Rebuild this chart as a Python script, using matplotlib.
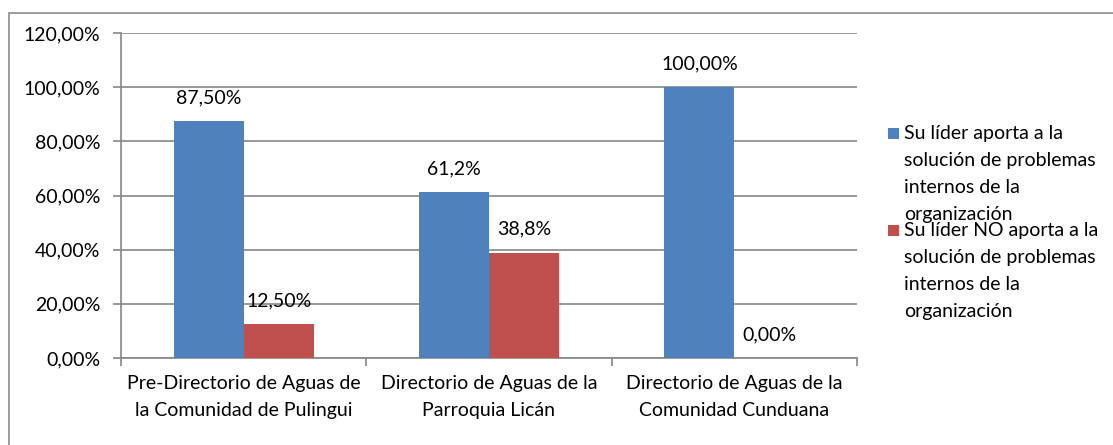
import matplotlib
matplotlib.use("Agg")
import matplotlib.pyplot as plt
from matplotlib.patches import Rectangle
from matplotlib.ticker import FuncFormatter, FixedLocator
import numpy as np

plt.rcParams['font.family'] = ['Lato', 'DejaVu Sans']

categories = ["Pre-Directorio de Aguas de\nla Comunidad de Pulingui",
              "Directorio de Aguas de la\nParroquia Licán",
              "Directorio de Aguas de la\nComunidad Cunduana"]
series_names = ["Su líder aporta a la\nsolución de problemas\ninternos de la\norganización",
                "Su líder NO aporta a la\nsolución de problemas\ninternos de la\norganización"]
aporta = [87.5, 61.2, 100.0]
no_aporta = [12.5, 38.8, 0.0]
label_aporta = ["87,50%", "61,2%", "100,00%"]
label_no_aporta = ["12,50%", "38,8%", "0,00%"]
yticks = [0, 20, 40, 60, 80, 100, 120]

colors = ["#4F81BD", "#C0504D"]
grid_c = "#868686"
fs = 14

W, H = 1113, 445
fig = plt.figure(figsize=(W/100, H/100), dpi=100)
# outer chart border
fig.patches.append(Rectangle((9/W, -0.1), 1.2, 1 - 13/H + 0.1, transform=fig.transFigure,
                             fill=False, edgecolor="#8c8c8c", linewidth=1.2, zorder=0))

ax = fig.add_axes([121/W, 1 - 358/H, (857-121)/W, (358-33)/H])
x = np.arange(len(categories))
w = 0.285
b1 = ax.bar(x - w/2, aporta, w, color=colors[0], zorder=3)
b2 = ax.bar(x + w/2, no_aporta, w, color=colors[1], zorder=3)

for bars, labs in ((b1, label_aporta), (b2, label_no_aporta)):
    for r, lab in zip(bars, labs):
        ax.annotate(lab, (r.get_x() + r.get_width()/2, r.get_height()),
                    xytext=(0, 17), textcoords="offset points",
                    ha="center", va="center", fontsize=fs, color="#000000")

ax.set_xlim(-0.5, 2.5)
ax.set_ylim(0, 120)
ax.set_yticks(yticks)
ax.yaxis.set_major_formatter(FuncFormatter(lambda v, p: f"{v:.2f}".replace(".", ",") + "%"))
ax.yaxis.grid(True, color=grid_c, linewidth=1.2, zorder=0)
ax.set_axisbelow(True)

ax.set_xticks(x)
ax.set_xticklabels(categories, fontsize=fs, linespacing=1.72)
ax.xaxis.set_minor_locator(FixedLocator([-0.5, 0.5, 1.5, 2.5]))
ax.tick_params(axis="x", which="major", length=0, pad=12)
ax.tick_params(axis="x", which="minor", length=6, color=grid_c, width=1.2)
ax.tick_params(axis="y", length=6, color=grid_c, width=1.2, labelsize=fs, pad=9)

for s in ("top", "right"):
    ax.spines[s].set_visible(False)
for s in ("left", "bottom"):
    ax.spines[s].set_color(grid_c)
    ax.spines[s].set_linewidth(1.2)

# legend (drawn like the original: marker next to first line, entries overlapping)
leg_x = 888 / W
text_x = 904 / W
for i, (name, c) in enumerate(zip(series_names, colors)):
    sq_top = 128 + i * 97
    fig.patches.append(Rectangle((leg_x, 1 - (sq_top + 11)/H), 11/W, 11/H,
                                 transform=fig.transFigure, facecolor=c, edgecolor="none"))
    fig.text(text_x, 1 - (sq_top - 3)/H, name, fontsize=fs, va="top", ha="left",
             linespacing=1.72)

fig.savefig("out.png", dpi=100)
